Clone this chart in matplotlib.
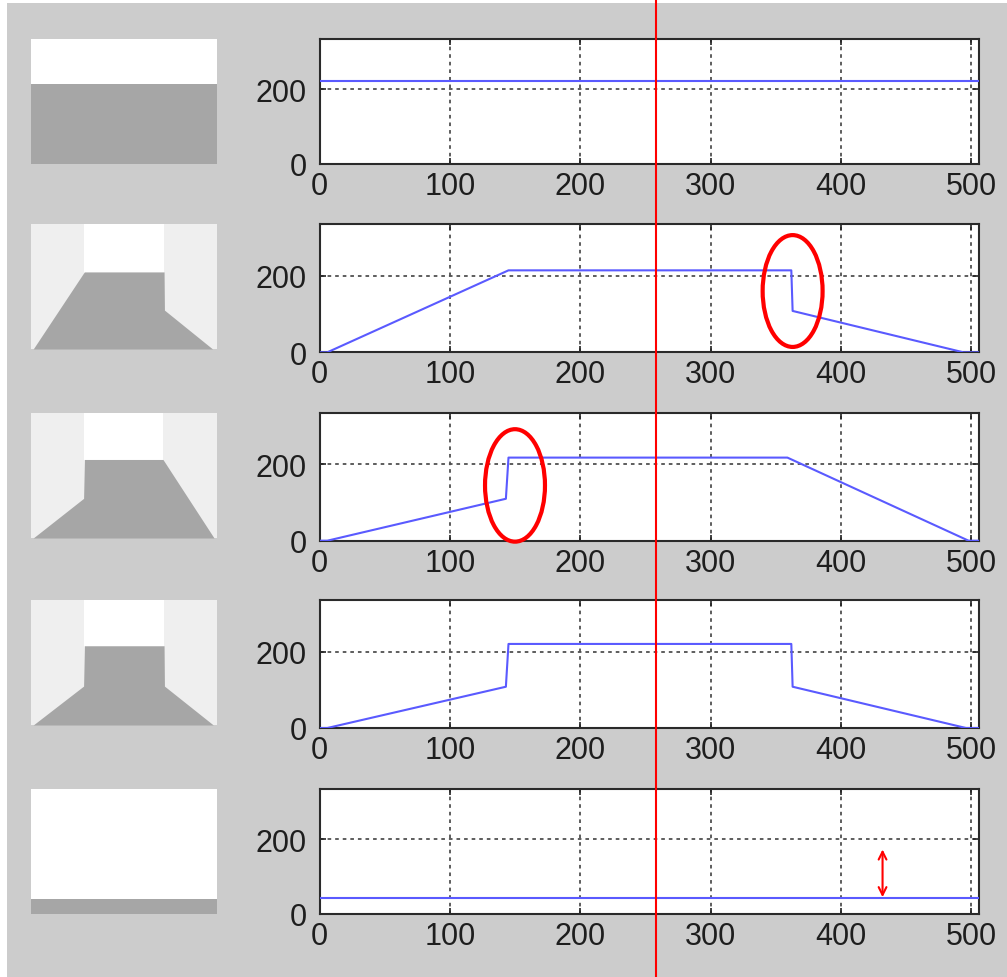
import numpy as np
import matplotlib
matplotlib.use("Agg")
import matplotlib.pyplot as plt
from matplotlib.patches import Ellipse, Rectangle
from matplotlib.lines import Line2D

plt.rcParams['font.family'] = ['Liberation Sans', 'DejaVu Sans']

# profile of each scene row: (position, height)
row1_x = [0, 506]
row1_y = [221, 221]
row2_x = [0, 6, 145, 362, 363, 494, 506]
row2_y = [0, 0, 214, 214, 108, 0, 0]
row3_x = [0, 6, 143, 145, 359, 498, 506]
row3_y = [0, 0, 110, 218, 218, 0, 0]
row4_x = [0, 6, 143, 145, 362, 363, 496, 506]
row4_y = [0, 0, 108, 220, 220, 108, 0, 0]
row5_x = [0, 506]
row5_y = [42, 42]

rows = [(row1_x, row1_y), (row2_x, row2_y), (row3_x, row3_y),
        (row4_x, row4_y), (row5_x, row5_y)]

x_ticks = [0, 100, 200, 300, 400, 500]
y_ticks = [0, 200]
x_max = 506
y_max = 335
img_y_max = 347

marker_x = 258                      # red vertical line
ellipses = [(1, 363, 160, 46, 292), (2, 150, 145, 46, 295)]  # row, x, y, w, h
arrow_row, arrow_x, arrow_y0, arrow_y1 = 4, 432, 45, 173

W, H = 1007, 978
fig = plt.figure(figsize=(W / 100, H / 100), dpi=100, facecolor='white')
fig.patches.append(Rectangle((7 / W, 0), 1, 1 - 4 / H, transform=fig.transFigure,
                             facecolor='#cccccc', edgecolor='none', zorder=-10))

# panel extents in pixels (top, bottom)
tops = [39.5, 225, 414, 601, 790]
bottoms = [165, 353.3, 541.7, 729, 915]
ax_left, ax_right = 319.5, 979
img_left, img_right = 31, 217

plot_axes = []
for i, (px, py) in enumerate(rows):
    t, b = tops[i], bottoms[i]
    px = np.array(px, dtype=float)
    py = np.array(py, dtype=float)

    # scene picture
    ia = fig.add_axes([img_left / W, 1 - (t + 125) / H, (img_right - img_left) / W, 125 / H])
    ia.set_xlim(0, x_max)
    ia.set_ylim(0, img_y_max)
    ia.axis('off')
    ia.add_patch(Rectangle((0, 0), x_max, img_y_max, facecolor='white', edgecolor='none'))
    full = np.where(py == py.max())[0]
    if len(full) < len(py):
        ia.axvspan(0, px[full[0]], color='#efefef', lw=0)
        ia.axvspan(px[full[-1]], x_max, color='#efefef', lw=0)
    ia.fill_between(px, 0, py, color='#a6a6a6', lw=0)

    # profile plot
    ax = fig.add_axes([ax_left / W, 1 - b / H, (ax_right - ax_left) / W, (b - t) / H])
    ax.set_facecolor('white')
    ax.plot(px, py, color='#5a5aff', lw=1.5, zorder=3)
    ax.set_xlim(0, x_max)
    ax.set_ylim(0, y_max)
    ax.set_xticks(x_ticks)
    ax.set_yticks(y_ticks)
    ax.grid(True, color='#505050', linestyle=(0, (2, 2.2)), lw=1.3)
    ax.tick_params(direction='in', length=4, width=1.2, top=True, right=True,
                   labelsize=22, labelcolor='#1e1e1e', color='#222222')
    ax.tick_params(axis='y', pad=9)
    ax.tick_params(axis='x', pad=5)
    for s in ax.spines.values():
        s.set_linewidth(1.5)
        s.set_color('#2a2a2a')
    plot_axes.append(ax)

# red annotations
for r, cx, cy, w, h in ellipses:
    plot_axes[r].add_patch(Ellipse((cx, cy), w, h, fill=False, edgecolor='red',
                                   lw=3, clip_on=False, zorder=5))

plot_axes[arrow_row].annotate('', xy=(arrow_x, arrow_y1), xytext=(arrow_x, arrow_y0),
                              arrowprops=dict(arrowstyle='<->', color='red', lw=1.5,
                                              shrinkA=0, shrinkB=0, mutation_scale=14))

fx = fig.transFigure.inverted().transform(plot_axes[0].transData.transform((marker_x, 0)))[0]
fig.lines.append(Line2D([fx, fx], [0, 1], transform=fig.transFigure, color='red', lw=1.5, zorder=20))

fig.savefig('out.png', dpi=100, facecolor=fig.get_facecolor())
